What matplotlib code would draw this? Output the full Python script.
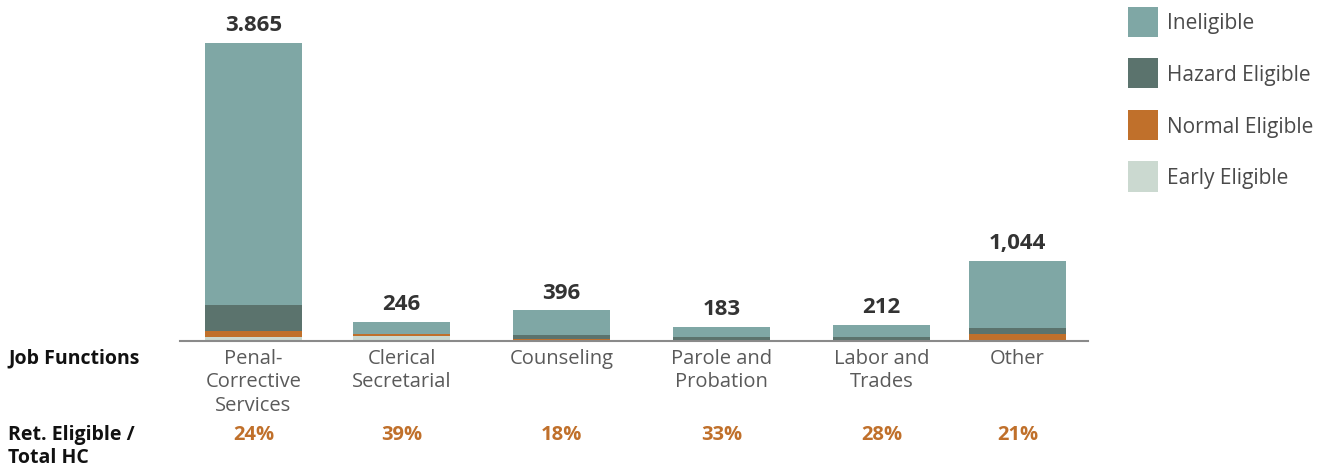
import matplotlib
matplotlib.use("Agg")
import matplotlib.pyplot as plt
from matplotlib.patches import Rectangle

categories = ["Penal-\nCorrective\nServices", "Clerical\nSecretarial", "Counseling",
              "Parole and\nProbation", "Labor and\nTrades", "Other"]
early = [52, 62, 0, 0, 0, 0]
normal = [78, 28, 28, 8, 10, 92]
hazard = [338, 0, 45, 50, 48, 78]
ineligible = [3397, 156, 323, 125, 154, 874]
total_labels = ["3.865", "246", "396", "183", "212", "1,044"]
pct_labels = ["24%", "39%", "18%", "33%", "28%", "21%"]

series_names = ["Ineligible", "Hazard Eligible", "Normal Eligible", "Early Eligible"]
colors = {"Ineligible": "#7fa7a5", "Hazard Eligible": "#5b736d",
          "Normal Eligible": "#c0702b", "Early Eligible": "#cbd9d0"}

plt.rcParams['font.family'] = ['Open Sans', 'DejaVu Sans']

W, H = 1324, 469
fig = plt.figure(figsize=(W / 100, H / 100), dpi=100)
ax_left, ax_right, ax_bot, ax_top = 180, 1088, 341, 10
ax = fig.add_axes([ax_left / W, (H - ax_bot) / H, (ax_right - ax_left) / W, (ax_bot - ax_top) / H])

# bar centres in pixel positions (layout)
centers_px = [253.5, 401.5, 561.5, 721.5, 881.5, 1017.5]
xs = [(c - ax_left) for c in centers_px]
bar_w = 97

totals = [e + n + h + i for e, n, h, i in zip(early, normal, hazard, ineligible)]
ymax = totals[0] * (ax_bot - ax_top) / (ax_bot - 43)

bottom = [0] * len(categories)
for name, vals in [("Early Eligible", early), ("Normal Eligible", normal),
                   ("Hazard Eligible", hazard), ("Ineligible", ineligible)]:
    ax.bar(xs, vals, bottom=bottom, width=bar_w, color=colors[name], linewidth=0)
    bottom = [b + v for b, v in zip(bottom, vals)]

ax.set_xlim(0, ax_right - ax_left)
ax.set_ylim(0, ymax)
for s in ["top", "right", "left"]:
    ax.spines[s].set_visible(False)
ax.spines["bottom"].set_color("#8a8a8a")
ax.spines["bottom"].set_linewidth(1.5)
ax.set_yticks([])
ax.set_xticks([])

for x, t, lab in zip(xs, totals, total_labels):
    ax.annotate(lab, (x, t), xytext=(0, 5), textcoords="offset points",
                ha="center", va="bottom", fontsize=16, fontweight="bold", color="#333333")

def fy(py):
    return (H - py) / H

def fx(px):
    return px / W

for c, cat, p in zip(centers_px, categories, pct_labels):
    fig.text(fx(c), fy(349), cat, ha="center", va="top", fontsize=14.5, color="#5a5a5a",
             linespacing=1.22)
    fig.text(fx(c), fy(435), p, ha="center", va="center", fontsize=14.5,
             fontweight="bold", color="#c0702b")

fig.text(fx(8), fy(358), "Job Functions", ha="left", va="center", fontsize=14,
         fontweight="bold", color="#111111")
fig.text(fx(8), fy(446), "Ret. Eligible /\nTotal HC", ha="left", va="center", fontsize=14,
         fontweight="bold", color="#111111", linespacing=1.2)

for k, name in enumerate(series_names):
    top = 7 + k * 51.5
    fig.add_artist(Rectangle((fx(1128), fy(top + 30)), 30 / W, 30 / H,
                             transform=fig.transFigure, color=colors[name], linewidth=0))
    fig.text(fx(1167), fy(top + 17), name, ha="left", va="center", fontsize=15,
             color="#4a4a4a")

fig.savefig("out.png", dpi=100)
